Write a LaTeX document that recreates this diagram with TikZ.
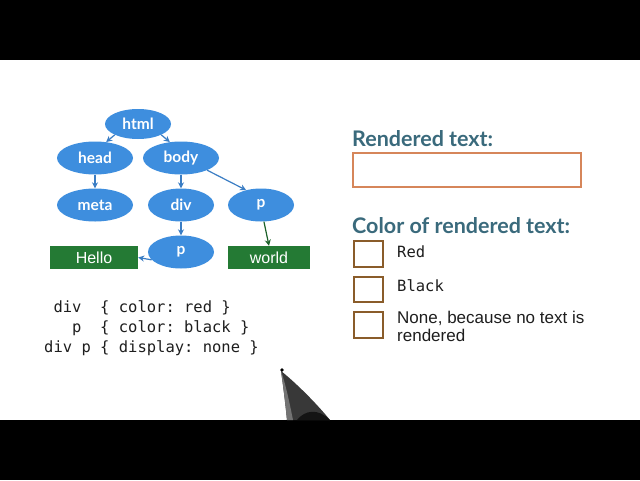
\documentclass[tikz,border=0pt]{standalone}
\usepackage{fontspec}
\setmainfont{Liberation Sans}
\setmonofont{DejaVu Sans Mono}
\newfontfamily\headfont{Lato}
\usetikzlibrary{shapes.geometric,arrows.meta}
\definecolor{nodeblue}{RGB}{62,142,222}
\definecolor{arrowblue}{RGB}{58,125,196}
\definecolor{leafgreen}{RGB}{36,122,52}
\definecolor{headteal}{RGB}{58,106,124}
\definecolor{boxorange}{RGB}{214,134,90}
\definecolor{boxbrown}{RGB}{138,92,42}
\definecolor{textdark}{RGB}{30,30,30}
\tikzset{
  dom/.style={ellipse, fill=nodeblue, inner sep=0pt, minimum width=74pt, minimum height=33pt,
    text=white, font=\headfont\bfseries\fontsize{15.5}{15.5}\selectfont},
  leaf/.style={rectangle, fill=leafgreen, inner sep=0pt, minimum width=86pt, minimum height=23pt,
    text=white, font=\fontsize{16}{16}\selectfont},
  conn/.style={draw=arrowblue, line width=1.2pt, -{Stealth[length=6pt,width=6pt]}},
  gconn/.style={draw=leafgreen!80!black, line width=1.2pt, -{Stealth[length=6pt,width=6pt]}},
  heading/.style={anchor=base west, inner sep=0pt, text=headteal, font=\headfont\bfseries\fontsize{21.5}{21.5}\selectfont},
  cbox/.style={draw=boxbrown, line width=2.5pt, fill=white},
  code/.style={anchor=base west, inner sep=0pt, text=textdark, font=\ttfamily\fontsize{15.5}{15.5}\selectfont},
  opt/.style={anchor=base west, inner sep=0pt, text=textdark, font=\fontsize{17}{17}\selectfont},
  optmono/.style={anchor=base west, inner sep=0pt, text=textdark, font=\ttfamily\fontsize{15.5}{15.5}\selectfont},
}
\begin{document}
\begin{tikzpicture}[x=1pt,y=-1pt]
\useasboundingbox (0,0) rectangle (640,480);
\fill[white] (0,0) rectangle (640,480);
\fill[black] (0,0) rectangle (640,60);
\fill[black] (0,420) rectangle (640,480);

% DOM tree
\node[dom, minimum width=66pt, minimum height=30pt] (html) at (138,124) {html};
\node[dom, minimum width=76pt] (head) at (95,158) {head};
\node[dom, minimum width=76pt] (body) at (181,158) {body};
\node[dom, minimum width=76pt] (meta) at (95,205) {meta};
\node[dom, minimum width=66pt] (div) at (181,205) {div};
\node[dom, minimum width=66pt] (pr) at (261,205) {p};
\node[dom, minimum width=66pt] (pl) at (181,252) {p};
\node[leaf, minimum width=88pt] (hello) at (94,257.5) {Hello};
\node[leaf, minimum width=82pt] (world) at (269,257.5) {world};

\draw[conn] (html.205) -- (head.55);
\draw[conn] (html.-25) -- (body.125);
\draw[conn] (head.south) -- (meta.north);
\draw[conn] (body.south) -- (div.north);
\draw[conn] (body.-25) -- (pr.135);
\draw[conn] (div.south) -- (pl.north);
\draw[conn] (pl.195) -- (hello.east);
\draw[gconn] (pr.-80) -- (world.north);

% CSS
\node[code] (css1) at (44,312) {~div~~\{~color:~red~\}};
\node[code] (css2) at (44,332) {~~~p~~\{~color:~black~\}};
\node[code] (css3) at (44,352) {div~p~\{~display:~none~\}};

% Right panel
\node[heading] (h1) at (352,146) {Rendered text:};
\draw[draw=boxorange, line width=2.5pt] (353,153) rectangle (581,187);
\node[heading] (h2) at (352,233) {Color of rendered text:};
\draw[cbox] (354,241) rectangle (383,267);
\draw[cbox] (354,277) rectangle (383,302);
\draw[cbox] (354,312) rectangle (383,338);
\node[optmono] (o1) at (397,257) {Red};
\node[optmono] (o2) at (397,291) {Black};
\node[opt] (o3a) at (397,323) {None, because no text is};
\node[opt] (o3b) at (397,341) {rendered};

% pen
\fill[black!78] (281,371) .. controls (290,378) and (312,398) .. (330,420) -- (287,420) .. controls (285,400) and (283,385) .. cycle;
\fill[black!55] (281,371) .. controls (285,382) and (289,400) .. (293,420) -- (287,420) .. controls (285,400) and (283,385) .. cycle;
\fill[black!92] (297,420) .. controls (305,410) and (318,408) .. (330,420) -- cycle;
\fill[black] (282,370) circle (1.8pt);
\end{tikzpicture}
\end{document}
